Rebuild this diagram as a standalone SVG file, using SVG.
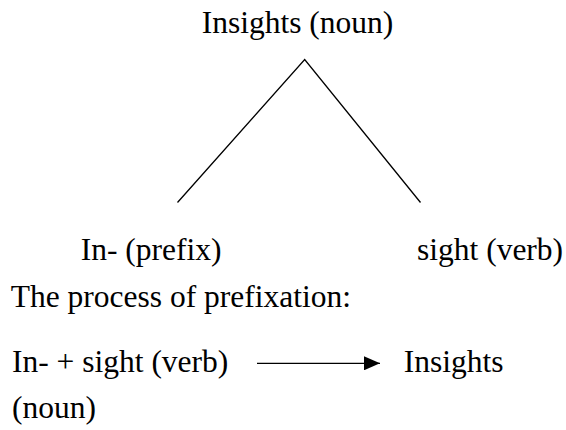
<svg xmlns="http://www.w3.org/2000/svg" width="566" height="430" viewBox="0 0 566 430">
  <style>
    .t { font-family: "Liberation Serif", "Times New Roman", serif; font-size: 31.5px; fill: #000; }
    .ln { stroke: #000; stroke-width: 1.3; fill: none; }
  </style>
  <defs>
    <marker id="arrowhead" markerWidth="16" markerHeight="14" refX="16" refY="7" orient="auto" markerUnits="userSpaceOnUse">
      <path d="M0,0 L16,7 L0,14 Z" fill="#000"/>
    </marker>
  </defs>
  <rect width="566" height="430" fill="#fff"/>

  <g id="connectors">
    <path class="ln" d="M177.5,202.5 L304.7,59.5 L420.5,202.5"/>
    <line class="ln" x1="257" y1="363.3" x2="380" y2="363.3" stroke-width="2" marker-end="url(#arrowhead)"/>
  </g>

  <g id="root-word">
    <text class="t" x="201.7" y="33">Insights (noun)</text>
  </g>
  <g id="prefix">
    <text class="t" x="80.7" y="260">In- (prefix)</text>
  </g>
  <g id="base">
    <text class="t" x="417" y="260">sight (verb)</text>
  </g>

  <g id="process">
    <text class="t" x="10.7" y="307">The process of prefixation:</text>
    <text class="t" x="12" y="371.7">In- + sight (verb)</text>
    <text class="t" x="403.7" y="371.7">Insights</text>
    <text class="t" x="12" y="418">(noun)</text>
  </g>
</svg>
